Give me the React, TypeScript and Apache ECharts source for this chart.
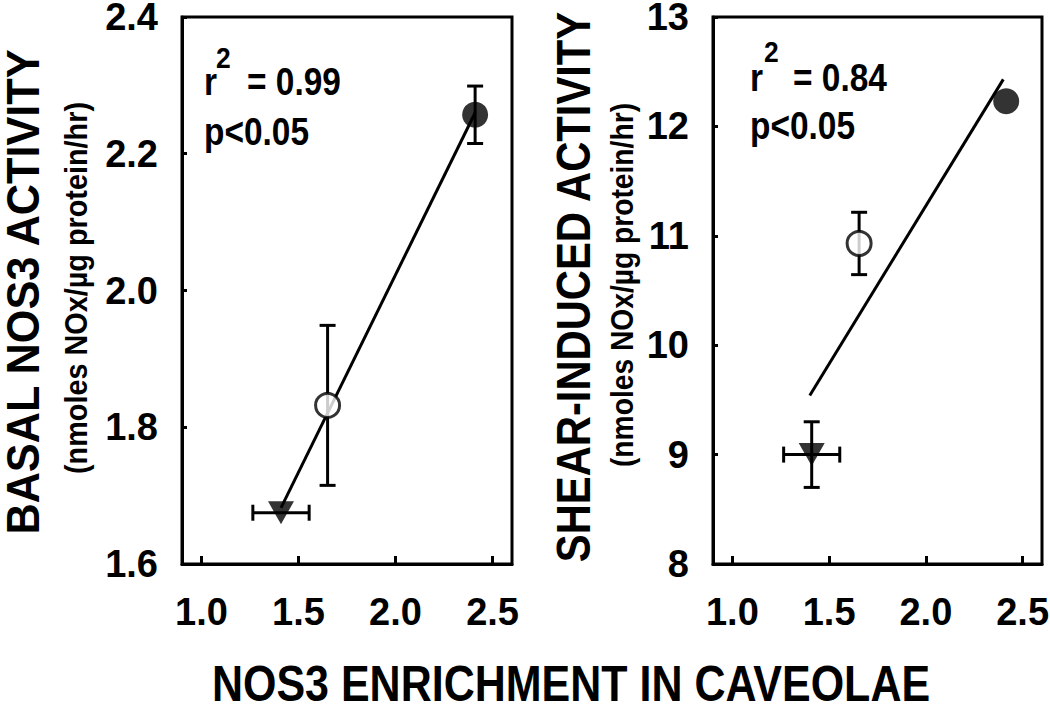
import React, { useEffect, useRef } from "react";
import * as echarts from "echarts";

// ---- data ----
const xTickValues = [1.0, 1.5, 2.0, 2.5];
const xMin = 0.9;
const xMax = 2.6;

// marker order: filled down-triangle, open circle, filled circle
const markerKinds = ["filledTriangle", "openCircle", "filledCircle"];

const basalX = [1.41, 1.65, 2.41];
const basalXErr = [0.145, 0, 0];
const basalY = [1.675, 1.832, 2.257];
const basalYErr = [0, 0.117, 0.042];
const basalFitX = [1.41, 2.41];
const basalFitY = [1.682, 2.26];

const shearX = [1.41, 1.655, 2.415];
const shearXErr = [0.145, 0, 0];
const shearY = [9.0, 10.93, 12.23];
const shearYErr = [0.3, 0.285, 0];
const shearFitX = [1.4, 2.4];
const shearFitY = [9.54, 12.43];

const basalStats = ["= 0.99", "p<0.05"];
const shearStats = ["= 0.84", "p<0.05"];

const FONT = "'Liberation Sans', Arial, sans-serif";

function markerItem(kind: string, x: number, y: number) {
  if (kind === "filledTriangle") {
    return {
      value: [x, y],
      symbol: "triangle",
      symbolRotate: 180,
      symbolSize: [26, 23],
      itemStyle: { color: "#000", borderWidth: 0 },
    };
  }
  if (kind === "openCircle") {
    return {
      value: [x, y],
      symbol: "circle",
      symbolSize: 24,
      itemStyle: { color: "#fff", borderColor: "#000", borderWidth: 3 },
    };
  }
  return {
    value: [x, y],
    symbol: "circle",
    symbolSize: 26,
    itemStyle: { color: "#000", borderWidth: 0 },
  };
}

const errRender = (params: any, api: any) => {
  const x = api.value(0);
  const y = api.value(1);
  const xe = api.value(2);
  const ye = api.value(3);
  const cap = 8;
  const style = { stroke: "#000", lineWidth: 3 };
  const children: any[] = [];
  if (ye > 0) {
    const t = api.coord([x, y + ye]);
    const b = api.coord([x, y - ye]);
    children.push({ type: "line", shape: { x1: t[0], y1: t[1], x2: b[0], y2: b[1] }, style });
    children.push({ type: "line", shape: { x1: t[0] - cap, y1: t[1], x2: t[0] + cap, y2: t[1] }, style });
    children.push({ type: "line", shape: { x1: b[0] - cap, y1: b[1], x2: b[0] + cap, y2: b[1] }, style });
  }
  if (xe > 0) {
    const l = api.coord([x - xe, y]);
    const r = api.coord([x + xe, y]);
    children.push({ type: "line", shape: { x1: l[0], y1: l[1], x2: r[0], y2: r[1] }, style });
    children.push({ type: "line", shape: { x1: l[0], y1: l[1] - cap, x2: l[0], y2: l[1] + cap }, style });
    children.push({ type: "line", shape: { x1: r[0], y1: r[1] - cap, x2: r[0], y2: r[1] + cap }, style });
  }
  return { type: "group", children };
};

// text drawn in a bold sans, squeezed horizontally to imitate a condensed face
function text(t: string, x: number, y: number, size: number, squeeze: number, extra: any = {}) {
  const { align, ...rest } = extra;
  return {
    type: "text",
    x,
    y,
    scaleX: squeeze,
    ...rest,
    style: {
      text: t,
      fontSize: size,
      fontWeight: "bold",
      fontFamily: FONT,
      lineHeight: Math.round(size * 0.8),
      fill: "#000",
      align: align || "left",
      verticalAlign: "middle",
    },
  };
}

export default function App() {
  const ref = useRef<HTMLDivElement>(null);

  useEffect(() => {
    if (!ref.current) return;
    const chart = echarts.init(ref.current, undefined, { renderer: "svg" });

    const grids = [
      { left: 182, top: 17, width: 330, height: 547 },
      { left: 713, top: 17, width: 329, height: 547 },
    ].map((g) => ({
      ...g,
      show: true,
      borderColor: "#000",
      borderWidth: 3,
      backgroundColor: "transparent",
      containLabel: false,
      outerBoundsMode: "none",
    }));

    const xAxisCommon = {
      type: "value",
      min: xMin,
      max: xMax,
      splitLine: { show: false },
      axisLine: { show: true, onZero: false, lineStyle: { color: "#000", width: 3 } },
      axisTick: {
        show: true,
        inside: true,
        length: 8,
        customValues: xTickValues,
        lineStyle: { color: "#000", width: 3 },
      },
      axisLabel: {
        customValues: xTickValues,
        formatter: (v: number) => v.toFixed(1),
        fontSize: 38,
        lineHeight: 30,
        fontWeight: "bold",
        fontFamily: FONT,
        color: "#000",
        margin: 33,
      },
    };

    const yAxisCommon = {
      type: "value",
      splitLine: { show: false },
      axisLine: { show: true, onZero: false, lineStyle: { color: "#000", width: 3 } },
      axisTick: { show: true, inside: true, length: 5, lineStyle: { color: "#000", width: 3 } },
    };
    const yLabel = {
      fontSize: 38,
      lineHeight: 30,
      padding: [8, 0, 0, 0],
      fontWeight: "bold",
      fontFamily: FONT,
      color: "#000",
      margin: 24,
    };

    const option: any = {
      animation: false,
      backgroundColor: "#fff",
      grid: grids,
      xAxis: [
        { ...xAxisCommon, gridIndex: 0 },
        { ...xAxisCommon, gridIndex: 1 },
      ],
      yAxis: [
        {
          ...yAxisCommon,
          gridIndex: 0,
          min: 1.6,
          max: 2.4,
          interval: 0.2,
          axisLabel: { ...yLabel, formatter: (v: number) => v.toFixed(1) },
        },
        {
          ...yAxisCommon,
          gridIndex: 1,
          min: 8,
          max: 13,
          interval: 1,
          axisLabel: { ...yLabel },
        },
      ],
      series: [
        {
          type: "line",
          xAxisIndex: 0,
          yAxisIndex: 0,
          data: basalFitX.map((x, i) => [x, basalFitY[i]]),
          showSymbol: false,
          symbol: "none",
          lineStyle: { color: "#000", width: 3 },
          z: 2,
        },
        {
          type: "line",
          xAxisIndex: 1,
          yAxisIndex: 1,
          data: shearFitX.map((x, i) => [x, shearFitY[i]]),
          showSymbol: false,
          symbol: "none",
          lineStyle: { color: "#000", width: 3 },
          z: 2,
        },
        {
          type: "custom",
          xAxisIndex: 0,
          yAxisIndex: 0,
          renderItem: errRender,
          encode: { x: 0, y: 1 },
          data: basalX.map((x, i) => [x, basalY[i], basalXErr[i], basalYErr[i]]),
          z: 3,
        },
        {
          type: "custom",
          xAxisIndex: 1,
          yAxisIndex: 1,
          renderItem: errRender,
          encode: { x: 0, y: 1 },
          data: shearX.map((x, i) => [x, shearY[i], shearXErr[i], shearYErr[i]]),
          z: 3,
        },
        {
          type: "scatter",
          xAxisIndex: 0,
          yAxisIndex: 0,
          data: basalX.map((x, i) => markerItem(markerKinds[i], x, basalY[i])),
          z: 5,
        },
        {
          type: "scatter",
          xAxisIndex: 1,
          yAxisIndex: 1,
          data: shearX.map((x, i) => markerItem(markerKinds[i], x, shearY[i])),
          z: 5,
        },
      ],
      graphic: [
        text("BASAL NOS3 ACTIVITY", 23, 292, 46, 0.94, { rotation: Math.PI / 2, align: "center" }),
        text("(nmoles NOx/µg protein/hr)", 76, 288, 31, 0.93, { rotation: Math.PI / 2, align: "center" }),
        text("SHEAR-INDUCED ACTIVITY", 573, 287, 48, 0.87, { rotation: Math.PI / 2, align: "center" }),
        text("(nmoles NOx/µg protein/hr)", 622, 285, 31, 0.91, { rotation: Math.PI / 2, align: "center" }),
        text("NOS3 ENRICHMENT IN CAVEOLAE", 571, 684, 50, 0.86, { align: "center" }),
        text("r", 204, 82, 38, 0.88),
        text("2", 216, 57, 30, 0.88),
        text(basalStats[0], 247, 82, 38, 0.88),
        text(basalStats[1], 204, 132, 38, 0.88),
        text("r", 750, 78, 38, 0.88),
        text("2", 764, 51, 30, 0.88),
        text(shearStats[0], 793, 78, 38, 0.88),
        text(shearStats[1], 750, 126, 38, 0.88),
      ],
    };

    chart.setOption(option);
    return () => chart.dispose();
  }, []);

  return (
    <div
      ref={ref}
      style={{ position: "absolute", left: 0, top: 0, width: 1050, height: 709 }}
    />
  );
}
